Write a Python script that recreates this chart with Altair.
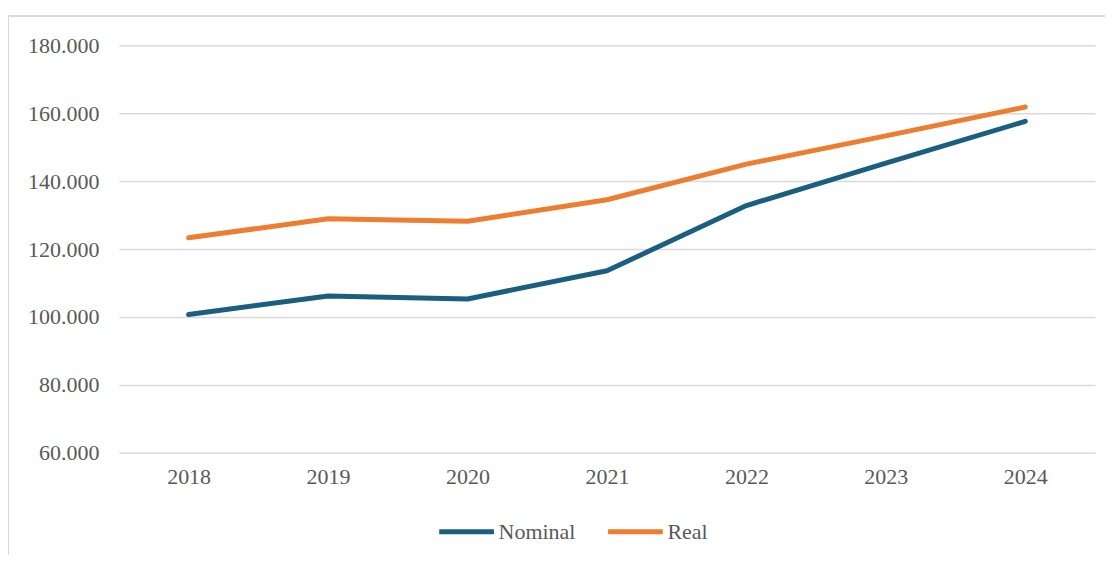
import altair as alt
import pandas as pd

years = ["2018", "2019", "2020", "2021", "2022", "2023", "2024"]
nominal = [100.7, 106.2, 105.3, 113.6, 132.8, 145.3, 157.6]
real = [123.3, 128.9, 128.2, 134.5, 145.0, 153.3, 161.8]
series_names = ["Nominal", "Real"]
colors = ["#1A5E80", "#ED7D31"]

rows = []
for name, vals in zip(series_names, [nominal, real]):
    for y, v in zip(years, vals):
        rows.append({"Year": y, "Value": v, "Series": name})
df = pd.DataFrame(rows)

FONT = "Liberation Serif"

lines = alt.Chart(df).mark_line(strokeWidth=5, strokeCap="round", strokeJoin="round").encode(
    x=alt.X("Year:N", sort=years, scale=alt.Scale(type="point", padding=0.5),
            axis=alt.Axis(title=None, labelAngle=0, domain=False, ticks=False, grid=False,
                          labelPadding=14, labelFont=FONT, labelFontSize=22, labelColor="#595959")),
    y=alt.Y("Value:Q", scale=alt.Scale(domain=[60, 180], nice=False, zero=False),
            axis=alt.Axis(title=None, values=[60, 80, 100, 120, 140, 160, 180],
                          labelExpr="format(datum.value, '.0f') + '.000'",
                          domain=False, ticks=False, grid=True, gridColor="#D9D9D9", gridWidth=1.5,
                          labelPadding=20, labelFont=FONT, labelFontSize=22, labelColor="#595959")),
    color=alt.Color("Series:N", sort=series_names,
                    scale=alt.Scale(domain=series_names, range=colors),
                    legend=alt.Legend(title=None, orient="none", direction="horizontal",
                                      legendX=318, legendY=457,
                                      symbolType="stroke", symbolSize=3000, symbolStrokeWidth=5,
                                      labelFont=FONT, labelFontSize=22, labelColor="#595959",
                                      columnPadding=22, labelOffset=2)),
)

frame_left = alt.Chart(df).mark_rule(color="#D9D9D9", strokeWidth=1.5, clip=False).encode(
    x=alt.value(-111), y=alt.value(-29), y2=alt.value(530))
frame_top = alt.Chart(df).mark_rule(color="#D9D9D9", strokeWidth=1.5, clip=False).encode(
    x=alt.value(-111), x2=alt.value(1000), y=alt.value(-29))

chart = alt.layer(frame_left, frame_top, lines).properties(
    width=977, height=408,
    autosize=alt.AutoSizeParams(type="none"),
    padding={"left": 111, "top": 37, "right": 10, "bottom": 102},
).configure_view(stroke=None)

chart.save("out.html", embed_options={"renderer": "svg", "actions": False})
